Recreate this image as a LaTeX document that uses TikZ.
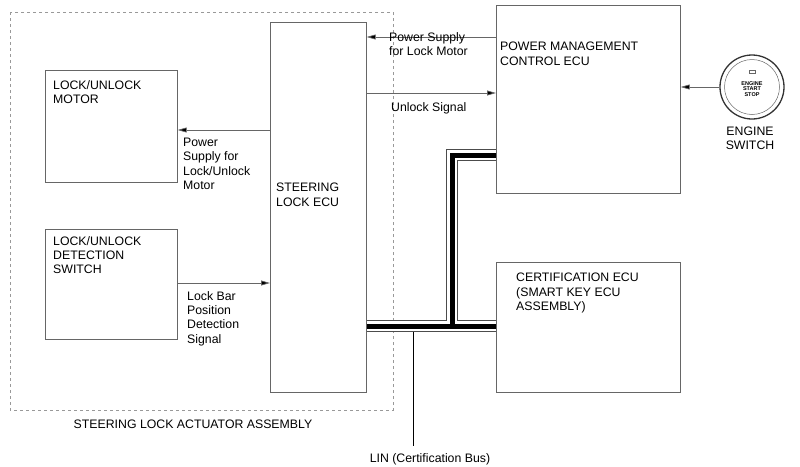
\documentclass[tikz,border=0pt]{standalone}
\usepackage{fontspec}
\setmainfont{Liberation Sans}
\usetikzlibrary{arrows.meta,positioning}
\begin{document}
\begin{tikzpicture}[x=1pt,y=-1pt,
  box/.style={draw=black!60,line width=0.7pt},
  lab/.style={font=\fontsize{12.3}{14.3}\selectfont,align=left,inner sep=0pt},
  arr/.style={draw=black!60,line width=0.7pt,-{Triangle[length=9pt,width=5pt,fill=black]}},
  busG/.style={draw=black!70,line width=12pt},
  busW/.style={draw=white,line width=10.2pt},
  busB/.style={draw=black,line width=5pt}]
\useasboundingbox (0,0) rectangle (800,466);
\draw[dashed,draw=black!40,line width=0.6pt] (10,12) rectangle (393,410);
\node[box,minimum width=96pt,minimum height=370pt,anchor=north west] (ecu) at (270,22) {};
\node[lab,align=left,anchor=north west] at (276,183) {STEERING\\LOCK ECU};
\node[box,minimum width=132pt,minimum height=112pt,anchor=north west] (mot) at (45,70) {};
\node[lab,anchor=north west] at (53,80) {LOCK/UNLOCK\\MOTOR};
\node[box,minimum width=132pt,minimum height=110pt,anchor=north west] (sw) at (45,229) {};
\node[lab,anchor=north west] at (53,236) {LOCK/UNLOCK\\DETECTION\\SWITCH};
\node[box,minimum width=184pt,minimum height=188pt,anchor=north west] (pm) at (496,5) {};
\node[lab,anchor=north west] at (500,42) {POWER MANAGEMENT\\CONTROL ECU};
\node[box,minimum width=184pt,minimum height=130pt,anchor=north west] (ce) at (496,262) {};
\node[lab,anchor=north west] at (516,273) {CERTIFICATION ECU\\(SMART KEY ECU\\ASSEMBLY)};
\node[lab] at (193,424) {STEERING LOCK ACTUATOR ASSEMBLY};
% engine switch
\node[circle,draw=black!80,line width=1.3pt,minimum size=64pt,inner sep=0pt] (es) at (752,87) {};
\node[circle,draw=black!60,line width=0.5pt,minimum size=55pt] at (es) {};
\draw[black!60,line width=0.5pt] (749,70) rectangle (755,73);
\node[font=\fontsize{5.5}{5.5}\selectfont\bfseries,align=center] at (752,89) {ENGINE\\START\\STOP};
\node[lab,align=center] at (750,138) {ENGINE\\SWITCH};
% arrows
\draw[arr] (es.west) -- (pm.east |- es.west);
\draw[arr] (pm.west |- 0,37) -- (ecu.east |- 0,37);
\node[lab,anchor=north west] at (389,32) {Power Supply\\for Lock Motor};
\draw[arr] (ecu.east |- 0,93) -- (pm.west |- 0,93);
\node[lab,anchor=north west] at (391,102) {Unlock Signal};
\draw[arr] (ecu.west |- 0,130) -- (mot.east |- 0,130);
\node[lab,anchor=north west] at (183,138) {Power\\Supply for\\Lock/Unlock\\Motor};
\draw[arr] (sw.east |- 0,283) -- (ecu.west |- 0,283);
\node[lab,anchor=north west] at (187,291) {Lock Bar\\Position\\Detection\\Signal};
% bus
\coordinate (b1) at (ecu.east |- 0,326);
\coordinate (b2) at (ce.west |- 0,326);
\coordinate (j) at (452,326);
\coordinate (t) at (452,155);
\coordinate (b3) at (pm.west |- 0,155);
\draw[busG] (b1) -- (b2) (j) -- (t) -- (b3);
\draw[busW] (b1) -- (b2) (j) -- (t) -- (b3);
\draw[busB] (b1) -- (b2) (j) -- (t) -- (b3);
\coordinate (lt) at (413,332);
\coordinate (lb) at (413,446);
\draw[black,line width=0.8pt] (lt) -- (lb);
\node[lab] (lin) at (430,459) {LIN (Certification Bus)};
\end{tikzpicture}
\end{document}
